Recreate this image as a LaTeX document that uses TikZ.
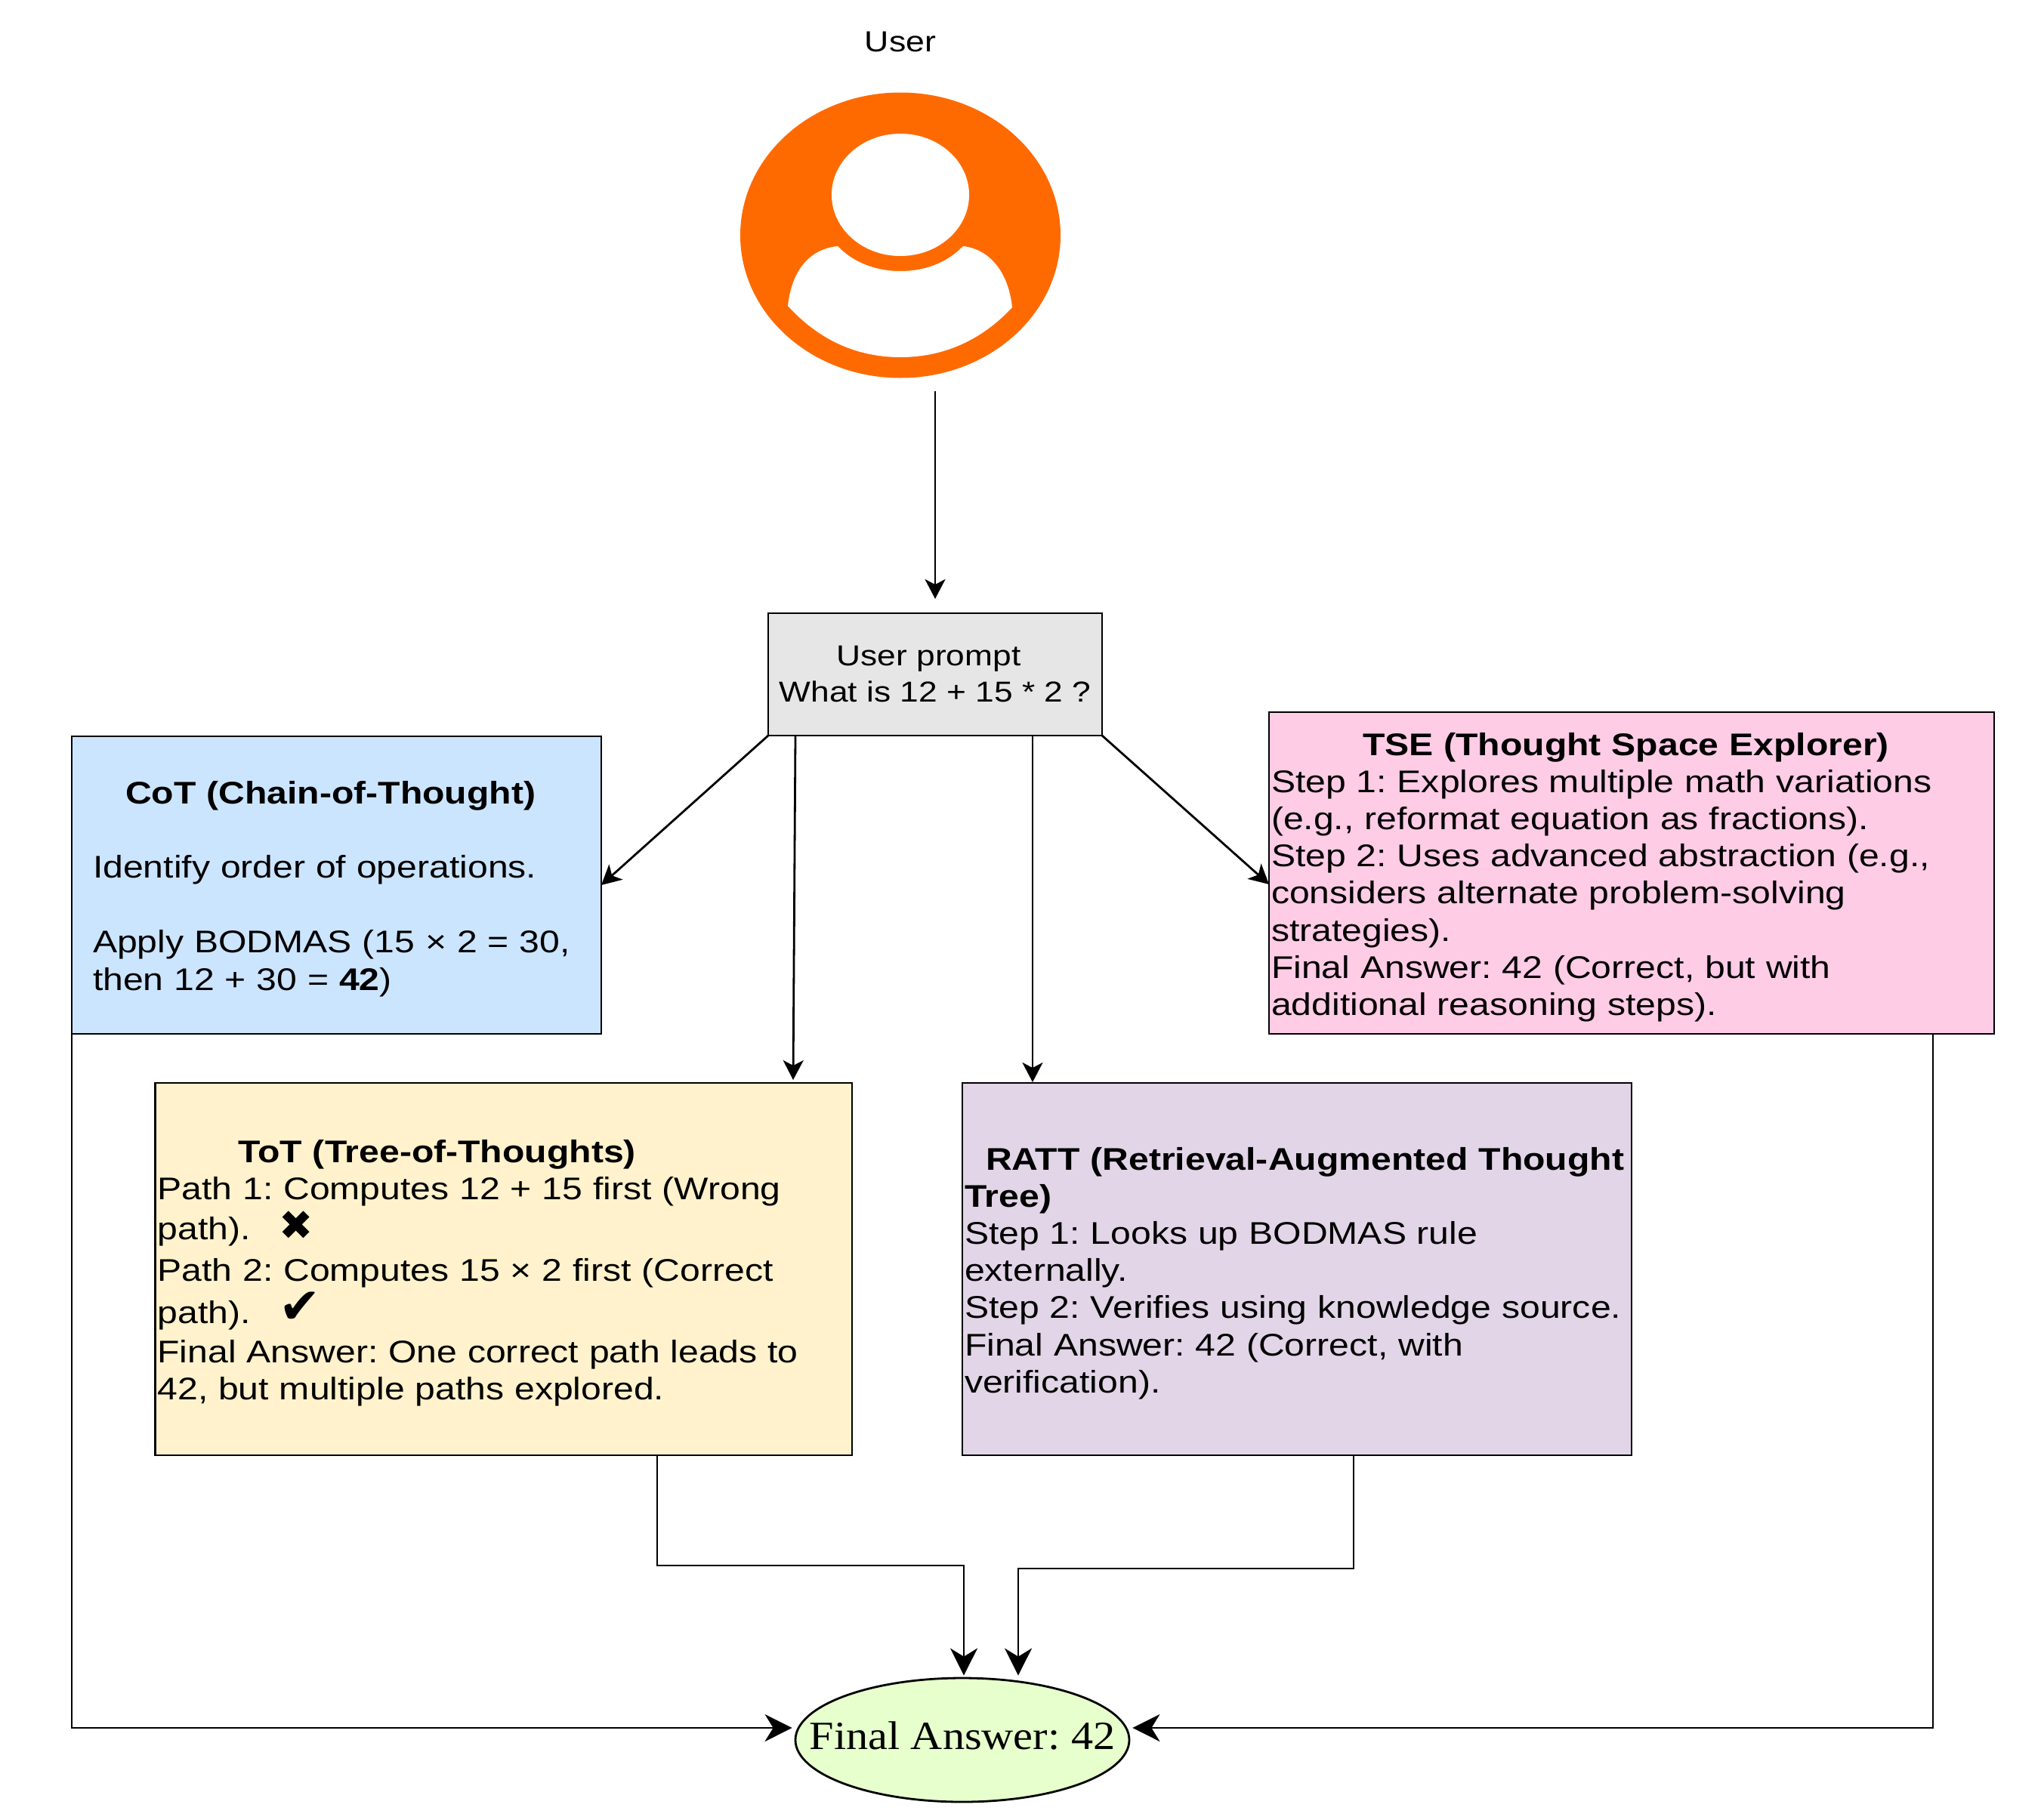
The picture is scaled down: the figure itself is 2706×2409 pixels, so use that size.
\documentclass[tikz,border=0pt]{standalone}
\usepackage{fontspec}
\setmainfont[FakeStretch=1.16]{Liberation Sans}
\newfontfamily\finalface[FakeStretch=1.1]{Liberation Serif}
\newfontfamily\dingface{DejaVu Sans}
\usetikzlibrary{arrows.meta,shapes.geometric}
\definecolor{cotblue}{HTML}{CCE5FF}
\definecolor{totyellow}{HTML}{FFF2CC}
\definecolor{rattpurple}{HTML}{E1D5E7}
\definecolor{tsepink}{HTML}{FFCCE6}
\definecolor{promptgrey}{HTML}{E6E6E6}
\definecolor{finalgreen}{HTML}{E6FFCC}
\definecolor{userorange}{HTML}{FF6A00}
\tikzset{
  panel/.style={draw=black,line width=2.9pt,inner ysep=0pt,align=left,outer sep=0pt,
    font=\frenchspacing\fontsize{41.5}{49.2}\selectfont},
  link/.style={draw=black,line width=2.8pt,-{Stealth[length=26pt,width=27pt,inset=7pt]}},
  biglink/.style={draw=black,line width=2.9pt,-{Stealth[length=36pt,width=36pt,inset=11pt]}},
}
\newcommand{\dingx}[2]{{\dingface\fontsize{#1}{49}\selectfont #2}}
\newcommand{\dropline}{\rule{0pt}{41pt}}
\begin{document}
\begin{tikzpicture}[x=1pt,y=-1pt]
\useasboundingbox (0,0) rectangle (2706,2409);
% user
\node[font=\fontsize{38.5}{46}\selectfont] (userlabel) at (1192,55) {User};
\node[ellipse,fill=userorange,minimum width=424pt,minimum height=378pt,inner sep=0pt] (icon) at (1192,311.5) {};
\node[ellipse,fill=white,minimum width=182pt,minimum height=162pt,inner sep=0pt] (head) at (1192,258) {};
\fill[white] (1043,405) .. controls (1048,360) and (1070,330) .. (1109,326)
  .. controls (1130,348) and (1160,359) .. (1192,359)
  .. controls (1224,359) and (1254,348) .. (1275,326)
  .. controls (1310,330) and (1335,360) .. (1340,407)
  .. controls (1300,450) and (1250,473) .. (1192,473)
  .. controls (1134,473) and (1084,450) .. (1043,405) -- cycle;
\coordinate (userout) at (1238,518);
% boxes
\node[panel,fill=promptgrey,align=center,minimum width=442pt,minimum height=162pt,inner xsep=0pt,
  font=\frenchspacing\fontsize{38.2}{48}\selectfont] (prompt) at (1238,893)
  {User prompt\hspace*{17pt}\\What is 12 + 15 * 2 ?};
\node[panel,fill=cotblue,text width=645pt,inner xsep=28pt,minimum height=394pt] (cot) at (445.5,1172)
  {\dropline\hspace*{43pt}\textbf{CoT (Chain-of-Thought)}\\\mbox{}\\Identify order of operations.\\\mbox{}\\Apply BODMAS (15 × 2 = 30,\\[1.5pt]then 12 + 30 = \textbf{42})};
\node[panel,fill=tsepink,text width=954pt,inner xsep=3pt,minimum height=426pt] (tse) at (2160,1156)
  {\dropline\hspace*{121pt}\textbf{TSE (Thought Space Explorer)}\\Step 1: Explores multiple math variations\\(e.g., reformat equation as fractions).\\Step 2: Uses advanced abstraction (e.g.,\\considers alternate problem-solving\\strategies).\\Final Answer: 42 (Correct, but with\\additional reasoning steps).};
\node[panel,fill=totyellow,text width=916.5pt,inner xsep=3pt,minimum height=493pt] (tot) at (666.75,1680.5)
  {\dropline\hspace*{107pt}\textbf{ToT (Tree-of-Thoughts)}\\
   Path 1: Computes 12 + 15 first (Wrong\\[4pt]
   path).\hspace{38pt}\dingx{54}{✖}\\[5pt]
   Path 2: Computes 15 × 2 first (Correct\\[5pt]
   path).\hspace{38pt}\dingx{66}{✔}\\[3pt]
   Final Answer: One correct path leads to\\
   42, but multiple paths explored.};
\node[panel,fill=rattpurple,text width=880pt,inner xsep=3pt,minimum height=493pt] (ratt) at (1717,1680.5)
  {\dropline\hspace*{28pt}\textbf{RATT (Retrieval-Augmented Thought}\\\textbf{Tree)}\\Step 1: Looks up BODMAS rule\\externally.\\Step 2: Verifies using knowledge source.\\Final Answer: 42 (Correct, with\\verification).};
\node[ellipse,draw=black,line width=2.8pt,fill=finalgreen,minimum width=442pt,minimum height=164pt,inner xsep=-60pt,inner ysep=0pt,
  font=\frenchspacing\finalface\fontsize{53}{60}\selectfont] (final) at (1274,2304) {\raisebox{11pt}{Final Answer: 42}};
% connectors
\coordinate (totjoin) at (1276,2073);
\coordinate (rattjoin) at (1348,2077);
\draw[link] (userout) -- ([yshift=19pt]prompt.north);
\draw[link] (prompt.south west) -- (cot.east);
\draw[link] ([xshift=36pt]prompt.south west) -- ([xshift=-78pt,yshift=4pt]tot.north east);
\draw[link] ([xshift=93pt]ratt.north west |- prompt.south) -- ([xshift=93pt,yshift=1pt]ratt.north west);
\draw[link] (prompt.south east) -- ([yshift=-15pt]tse.west);
\draw[biglink] (cot.south west) |- ([xshift=-3pt,yshift=16pt]final.west);
\draw[biglink] ([xshift=-81pt]tse.south east) |- ([xshift=3pt,yshift=16pt]final.east);
\draw[biglink] ([xshift=-258pt]tot.south east) |- (totjoin) -- ([xshift=2pt,yshift=2pt]final.north);
\draw[biglink] ([xshift=75pt]ratt.south) |- (rattjoin) -- ([xshift=74pt,yshift=2pt]final.north);
\end{tikzpicture}
\end{document}
